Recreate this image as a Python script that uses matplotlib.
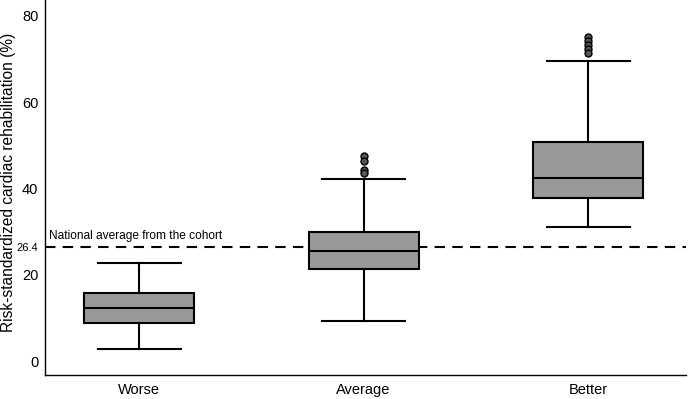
import numpy as np
import matplotlib.pyplot as plt

plt.rcParams['font.family'] = ['Liberation Sans', 'DejaVu Sans']

# values
categories = ['Worse', 'Average', 'Better']
q1 = [8.8, 21.3, 37.8]
medians = [12.3, 25.6, 42.5]
q3 = [15.8, 29.8, 50.8]
whisker_low = [2.8, 9.3, 31.1]
whisker_high = [22.7, 42.2, 69.6]
outliers = [
    [],
    [47.6, 46.3, 44.2, 43.6],
    [75.1, 74.2, 73.3, 72.4, 71.4],
]
national_avg = 26.4

stats = []
for i, name in enumerate(categories):
    stats.append({
        'label': name,
        'q1': q1[i],
        'med': medians[i],
        'q3': q3[i],
        'whislo': whisker_low[i],
        'whishi': whisker_high[i],
        'fliers': outliers[i],
    })

fig = plt.figure(figsize=(6.88, 3.99), dpi=100)
ax = fig.add_axes([0.066, 0.06, 0.931, 0.94])

line_kw = dict(color='black', linewidth=1.5)
ax.bxp(stats, positions=[1, 2, 3], widths=0.49, capwidths=0.37,
       patch_artist=True,
       boxprops=dict(facecolor='#999999', edgecolor='black', linewidth=1.5),
       medianprops=line_kw, whiskerprops=line_kw, capprops=line_kw,
       flierprops=dict(marker='o', markerfacecolor='#555555',
                       markeredgecolor='black', markersize=5,
                       markeredgewidth=1.0))

ax.axhline(national_avg, color='black', linewidth=1.5,
           linestyle=(0, (5, 3.5)), zorder=1)
ax.text(0.6, national_avg + 1.2, 'National average from the cohort',
        fontsize=8.6, va='bottom', ha='left')

ax.set_xlim(0.583, 3.435)
ax.set_ylim(-3.25, 83.7)

ax.set_yticks([0, 20, national_avg, 40, 60, 80])
ax.set_yticklabels(['0', '20', '26.4', '40', '60', '80'])
for lab in ax.get_yticklabels():
    lab.set_fontsize(8 if lab.get_text() == '26.4' else 10.5)
ax.tick_params(axis='both', length=0, pad=5)
ax.tick_params(axis='x', labelsize=10.5, pad=6)

ax.set_ylabel('Risk-standardized cardiac rehabilitation (%)', fontsize=11.2)
ax.yaxis.set_label_coords(-0.046, 0.515)

ax.spines['top'].set_visible(False)
ax.spines['right'].set_visible(False)
ax.spines['left'].set_linewidth(1.0)
ax.spines['bottom'].set_linewidth(1.0)

fig.savefig('out.png', dpi=100)
